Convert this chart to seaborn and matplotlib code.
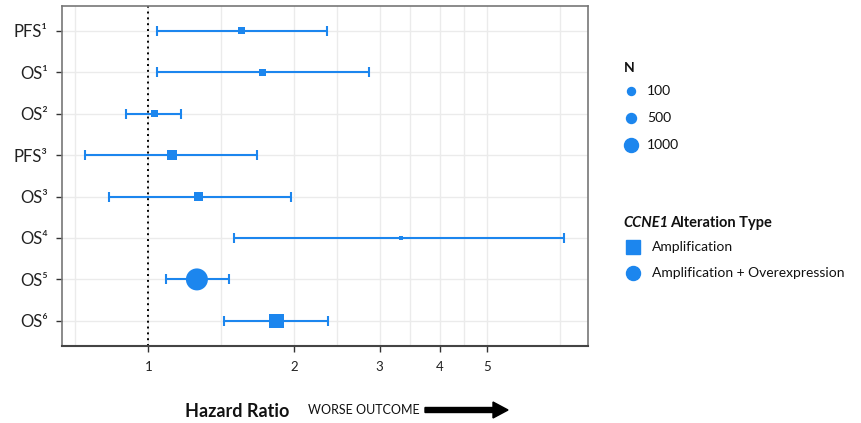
import numpy as np
import pandas as pd
import matplotlib
matplotlib.use("Agg")
import matplotlib.pyplot as plt
import seaborn as sns
from matplotlib.lines import Line2D
from matplotlib.patches import FancyArrow
from matplotlib.ticker import FixedLocator, NullFormatter

# ---------------- data ----------------
labels = ["PFS¹", "OS¹", "OS²", "PFS³", "OS³", "OS⁴", "OS⁵", "OS⁶"]
hazard_ratio = [1.56, 1.72, 1.03, 1.12, 1.27, 3.32, 1.26, 1.84]
ci_lower = [1.04, 1.04, 0.90, 0.74, 0.83, 1.50, 1.09, 1.43]
ci_upper = [2.34, 2.85, 1.17, 1.68, 1.97, 7.21, 1.47, 2.35]
n_patients = [230, 230, 230, 500, 450, 40, 2500, 1050]
alteration = ["Amplification"] * 6 + ["Amplification + Overexpression", "Amplification"]
x_ticks = [1, 2, 3, 4, 5]
legend_n = [100, 500, 1000]
alt_types = ["Amplification", "Amplification + Overexpression"]

BLUE = "#1C86EE"
W, H = 861, 423

sns.set_theme(style="white")
plt.rcParams["font.family"] = ["Lato", "DejaVu Sans"]

df = pd.DataFrame({
    "label": labels, "hr": hazard_ratio, "lo": ci_lower, "hi": ci_upper,
    "N": n_patients, "type": alteration,
})
df["row"] = np.arange(len(df))

fig = plt.figure(figsize=(W / 100, H / 100), dpi=100)
ax = fig.add_axes([61.7 / W, 1 - 345.7 / H, (587.7 - 61.7) / W, (345.7 - 6) / H])

def fx(px):
    return px / W

def fy(py):
    return 1 - py / H

# ---------------- size mapping ----------------
pt_per_px = 72 / 100
s_min = (4 * pt_per_px) ** 2
s_max = (22 * pt_per_px) ** 2
norm = (40, 2500)

ax.set_xscale("log")

# error bars
ax.errorbar(df["hr"], df["row"],
            xerr=[df["hr"] - df["lo"], df["hi"] - df["hr"]],
            fmt="none", ecolor=BLUE, elinewidth=1.5, capsize=3.6, capthick=1.5,
            zorder=2)

sns.scatterplot(data=df, x="hr", y="row", style="type",
                markers={"Amplification": "s", "Amplification + Overexpression": "o"},
                size="N", sizes=(s_min, s_max), size_norm=norm,
                color=BLUE, linewidth=0, legend=False, ax=ax, zorder=3)

ax.axvline(1, color="black", linestyle=(0, (1, 2)), linewidth=1.4, zorder=2.5)

# axes limits / ticks
ax.set_xlim(0.663, 8.06)
ax.set_ylim(len(df) - 1 + 0.6, -0.6)
ax.xaxis.set_major_locator(FixedLocator(x_ticks))
ax.set_xticklabels([str(t) for t in x_ticks])
minor = [np.sqrt(a * b) for a, b in zip([0.5] + x_ticks, x_ticks + [10])]
ax.xaxis.set_minor_locator(FixedLocator(minor))
ax.xaxis.set_minor_formatter(NullFormatter())
ax.set_yticks(df["row"])
ax.set_yticklabels(df["label"])

ax.grid(True, which="both", color="#ebebeb", linewidth=1.0, zorder=0)
ax.set_axisbelow(True)
ax.tick_params(axis="x", which="major", length=4, width=1, color="#333333",
               labelsize=9.5, pad=7, labelcolor="#222222", bottom=True)
ax.tick_params(axis="x", which="minor", length=0)
ax.tick_params(axis="y", length=4, width=1, color="#333333", labelsize=12,
               pad=6, labelcolor="#222222", left=True)
ax.set_xlabel("")
ax.set_ylabel("")
for side in ["top", "right", "left"]:
    ax.spines[side].set_color("#777777")
    ax.spines[side].set_linewidth(1.2)
ax.spines["bottom"].set_color("#444444")
ax.spines["bottom"].set_linewidth(1.5)

# ---------------- x title with arrow ----------------
fig.text(fx(185), fy(411), "Hazard Ratio", fontsize=13, fontweight="bold",
         color="#111111", va="center", ha="left")
fig.text(fx(308), fy(410), "WORSE OUTCOME", fontsize=9, color="#111111",
         va="center", ha="left")
arrow = FancyArrow(fx(425), fy(410), fx(83), 0, width=5 / H, head_width=16 / H,
                   head_length=fx(15), length_includes_head=True,
                   color="black", transform=fig.transFigure)
fig.patches.append(arrow)

# ---------------- legends ----------------
fig.text(fx(624), fy(68), "N", fontsize=10, fontweight="bold", va="center",
         ha="left", color="#111111")
legend_px = [8, 10, 14]
for n, yy, d in zip(legend_n, [91, 118, 145], legend_px):
    fig.add_artist(Line2D([fx(631)], [fy(yy)], marker="o", markersize=d * pt_per_px,
                          color=BLUE, linestyle="none", transform=fig.transFigure))
    fig.text(fx(647), fy(yy), str(n), fontsize=10, va="center", ha="left",
             color="#111111")

fig.text(fx(623), fy(223), "CCNE1", fontsize=10.5, fontweight="bold",
         fontstyle="italic", va="center", ha="left", color="#111111")
fig.text(fx(670), fy(223), "Alteration Type", fontsize=10.5, fontweight="bold",
         va="center", ha="left", color="#111111")
for t, yy, mk in zip(alt_types, [247, 273], ["s", "o"]):
    fig.add_artist(Line2D([fx(633)], [fy(yy)], marker=mk, markersize=14 * pt_per_px,
                          color=BLUE, linestyle="none", transform=fig.transFigure))
    fig.text(fx(652), fy(yy), t, fontsize=10, va="center", ha="left",
             color="#111111")

fig.savefig("out.png", dpi=100, facecolor="white")
